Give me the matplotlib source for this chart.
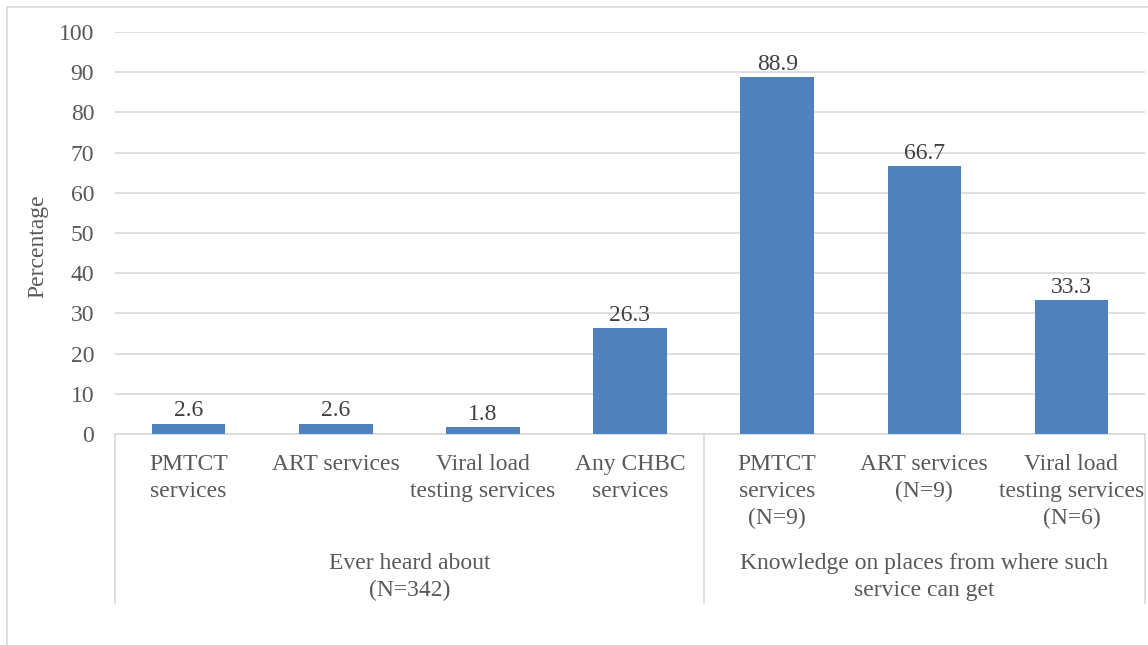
import matplotlib
matplotlib.use("Agg")
import matplotlib.pyplot as plt
import matplotlib.transforms as mtransforms
from matplotlib.patches import Rectangle

categories = ["PMTCT\nservices", "ART services", "Viral load\ntesting services",
              "Any CHBC\nservices", "PMTCT\nservices\n(N=9)", "ART services\n(N=9)",
              "Viral load\ntesting services\n(N=6)"]
values = [2.6, 2.6, 1.8, 26.3, 88.9, 66.7, 33.3]
groups = ["Ever heard about\n(N=342)",
          "Knowledge on places from where such\nservice can get"]
group_sizes = [4, 3]
yticks = [0, 10, 20, 30, 40, 50, 60, 70, 80, 90, 100]

plt.rcParams['font.family'] = ['Liberation Serif', 'DejaVu Serif']

W, H = 1148, 645
fig = plt.figure(figsize=(W / 100, H / 100), dpi=100)

def fx(px):
    return px / W

def fy(py):
    return 1 - py / H

# outer chart frame
fig.patches.append(Rectangle((fx(7), fy(652)), fx(1160) - fx(7), fy(7) - fy(652),
                             transform=fig.transFigure, fill=False,
                             edgecolor='#D9D9D9', lw=1.2))

left, right, top, bottom = 115, 1145, 32, 434
ax = fig.add_axes([fx(left), fy(bottom), fx(right) - fx(left), fy(top) - fy(bottom)])

FS = 17
x = list(range(len(values)))
ax.bar(x, values, width=0.5, color='#4F81BD', zorder=3)
ax.set_xlim(-0.5, len(values) - 0.5)
ax.set_ylim(0, 100)
ax.set_yticks(yticks)
ax.set_yticklabels([str(t) for t in yticks], fontsize=FS, color='#595959')
ax.tick_params(axis='y', length=0, pad=15)
ax.tick_params(axis='x', length=0, labelbottom=False)
ax.grid(axis='y', color='#D9D9D9', lw=1.2, zorder=0)
for s in ['top', 'right', 'left']:
    ax.spines[s].set_visible(False)
ax.spines['bottom'].set_color('#D9D9D9')
ax.spines['bottom'].set_linewidth(1.2)

trans = mtransforms.blended_transform_factory(ax.transData, ax.transAxes)
ppu = (bottom - top)

def ay(py):
    return (bottom - py) / ppu

ax.set_ylabel("Percentage", fontsize=FS, color='#595959')
ax.yaxis.set_label_coords((48 - left) / (right - left), ay(246))

for xi, v in zip(x, values):
    ax.annotate(f"{v}", (xi, v), xytext=(0, 1.5), textcoords='offset points',
                ha='center', va='bottom', fontsize=FS, color='#404040')

for xi, lab in zip(x, categories):
    ax.text(xi, ay(454), lab, transform=trans, ha='center', va='top',
            fontsize=FS, color='#595959', linespacing=1.38)

# separators
start = 0
bounds = [-0.5]
for g in group_sizes:
    start += g
    bounds.append(start - 0.5)
for b in bounds:
    ax.plot([b, b], [0, ay(603)], transform=trans, color='#D9D9D9', lw=1.2,
            clip_on=False, zorder=1)

start = 0
for g, lab in zip(group_sizes, groups):
    center = start - 0.5 + g / 2
    ax.text(center, ay(553), lab, transform=trans, ha='center', va='top',
            fontsize=FS, color='#595959', linespacing=1.38)
    start += g

fig.savefig("out.png", dpi=100)
